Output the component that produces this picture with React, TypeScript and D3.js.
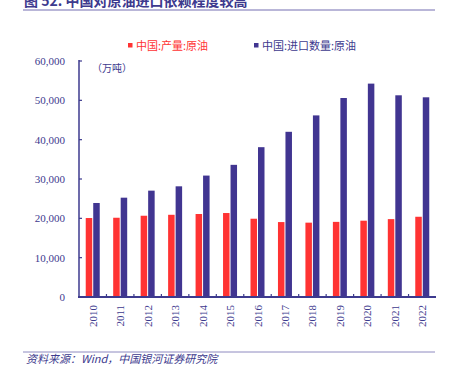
import * as React from 'react';
import * as d3 from 'd3';

const years = ['2010','2011','2012','2013','2014','2015','2016','2017','2018','2019','2020','2021','2022'];
const output = [20080, 20150, 20660, 20900, 21100, 21350, 19900, 19050, 18900, 19100, 19400, 19800, 20400];
const imports = [23900, 25250, 27040, 28140, 30870, 33600, 38090, 42000, 46170, 50590, 54250, 51280, 50770];
const yTicks = [0, 10000, 20000, 30000, 40000, 50000, 60000];
const seriesNames = ['中国:产量:原油', '中国:进口数量:原油'];

const RED = '#ff3333';
const BLUE = '#413591';
const INK = '#3d3a8e';
const SERIF = '"Liberation Serif", "Times New Roman", serif';
const CJK = '"Noto Sans CJK SC", serif';

const App: React.FC = () => {
    const W = 456, H = 365;
    const left = 79, right = 436, top = 61, bottom = 297;

    const x = d3.scaleBand<string>().domain(years).range([left, right]);
    const y = d3.scaleLinear().domain([0, 60000]).range([bottom, top]);
    const fmt = d3.format(',');
    const barW = 6.5;

    return (
        <svg width={W} height={H} style={{ position: 'absolute', left: 0, top: 0, background: '#fff' }}>
            {/* title, clipped at top like the source */}
            <text x={24} y={6} fontFamily={CJK} fontWeight={700} fontSize={14} fill={INK}>图 52. 中国对原油进口依赖程度较高</text>
            <line x1={23} x2={435} y1={10} y2={10} stroke="#b9b6d8" strokeWidth={2} />

            {/* legend */}
            <rect x={128} y={43} width={4.5} height={4.5} fill={RED} />
            <text x={136} y={50} fontFamily={CJK} fontSize={11} fill={RED}>{seriesNames[0]}</text>
            <rect x={254} y={43} width={4.5} height={4.5} fill={BLUE} />
            <text x={262} y={50} fontFamily={CJK} fontSize={11} fill={INK}>{seriesNames[1]}</text>

            <text x={92} y={72} fontFamily={CJK} fontSize={10} fill={INK}>（万吨）</text>

            {/* bars */}
            {years.map((yr, i) => {
                const c = (x(yr) as number) + x.bandwidth() / 2;
                return (
                    <g key={yr}>
                        <rect x={c - 0.5 - barW} y={y(output[i])} width={barW} height={bottom - y(output[i])} fill={RED} />
                        <rect x={c + 0.5} y={y(imports[i])} width={barW} height={bottom - y(imports[i])} fill={BLUE} />
                    </g>
                );
            })}

            {/* y axis */}
            <line x1={left} x2={left} y1={top - 1} y2={bottom} stroke={INK} strokeWidth={1.5} />
            {yTicks.map(t => (
                <g key={t}>
                    <line x1={left} x2={left + 3} y1={y(t)} y2={y(t)} stroke={INK} strokeWidth={1.2} />
                    <text x={65} y={y(t) + 4} textAnchor="end" fontFamily={SERIF} fontSize={11} fill={INK}>{fmt(t)}</text>
                </g>
            ))}

            {/* x axis */}
            <line x1={left - 1} x2={right} y1={bottom} y2={bottom} stroke={INK} strokeWidth={2} />
            {years.slice(1).map(yr => (
                <line key={yr} x1={x(yr) as number} x2={x(yr) as number} y1={bottom} y2={bottom - 3} stroke={INK} strokeWidth={1.2} />
            ))}
            {years.map(yr => {
                const c = (x(yr) as number) + x.bandwidth() / 2;
                return (
                    <text key={yr} transform={`translate(${c + 4},305) rotate(-90)`} textAnchor="end"
                        fontFamily={SERIF} fontSize={11} fill={INK}>{yr}</text>
                );
            })}

            {/* source */}
            <line x1={23} x2={435} y1={352} y2={352} stroke="#8e8ac0" strokeWidth={1} />
            <text x={26} y={363} fontFamily={CJK} fontStyle="italic" fontSize={11} fill={INK}>资料来源：Wind，中国银河证券研究院</text>
        </svg>
    );
};

export default App;
